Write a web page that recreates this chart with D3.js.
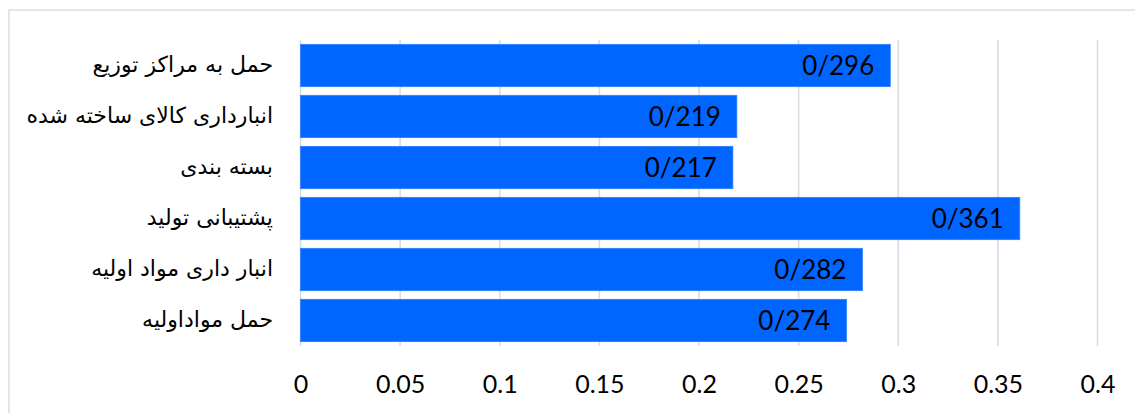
<!DOCTYPE html>
<html><head><meta charset="utf-8">
<script src="https://cdn.jsdelivr.net/npm/d3@7"></script>
<style>body{margin:0;background:#fff;} svg{display:block;}</style>
</head><body>
<svg id="c" width="1135" height="413"></svg>
<script>
const categories = ["حمل به مراکز توزیع","انبارداری کالای ساخته شده","بسته بندی","پشتیبانی تولید","انبار داری مواد اولیه","حمل مواداولیه"];
const values = [0.296, 0.219, 0.217, 0.361, 0.282, 0.274];
const tickValues = [0, 0.05, 0.1, 0.15, 0.2, 0.25, 0.3, 0.35, 0.4];
const tickLabels = ["0","0.05","0.1","0.15","0.2","0.25","0.3","0.35","0.4"];

const svg = d3.select("#c");
svg.append("rect").attr("x",9).attr("y",10).attr("width",1140).attr("height",420)
  .attr("fill","#fff").attr("stroke","#dadde4").attr("stroke-width",1.5);

const x = d3.scaleLinear().domain([0,0.4]).range([300.5,1097.5]);
const y = d3.scaleBand().domain(categories).range([40,346]).paddingInner(0.17).paddingOuter(0.085);

// gridlines
svg.append("g").selectAll("line").data(tickValues).join("line")
  .attr("x1",d=>x(d)).attr("x2",d=>x(d)).attr("y1",40).attr("y2",346)
  .attr("stroke","#d9dce4").attr("stroke-width",1.6);

// bars
svg.append("g").selectAll("rect").data(values).join("rect")
  .attr("x",x(0)).attr("y",(d,i)=>y(categories[i]))
  .attr("width",d=>x(d)-x(0)).attr("height",y.bandwidth())
  .attr("fill","#0066ff").attr("stroke","#2f80ff").attr("stroke-width",0.8);

// value labels
svg.append("g").selectAll("text").data(values).join("text")
  .attr("x",d=>x(d)-16).attr("y",(d,i)=>y(categories[i])+y.bandwidth()/2)
  .attr("dy","0.36em").attr("text-anchor","end")
  .attr("font-family","Lato, 'Open Sans', sans-serif").attr("font-size",26).attr("fill","#000")
  .text(d=>d3.format(".3f")(d).replace(".","/"));

// category labels
svg.append("g").selectAll("text").data(categories).join("text")
  .attr("x",273).attr("y",d=>y(d)+y.bandwidth()/2)
  .attr("dy","0.3em").attr("text-anchor","end")
  .attr("font-family","'DejaVu Sans', sans-serif").attr("font-size",22).attr("fill","#000")
  .text(d=>d);

// x axis
const ax = svg.append("g").attr("transform","translate(0,375)")
  .call(d3.axisBottom(x).tickValues(tickValues).tickFormat((d,i)=>tickLabels[i]).tickSize(0).tickPadding(0));
ax.select(".domain").remove();
ax.selectAll("text").attr("font-family","Lato, 'Open Sans', sans-serif").attr("font-size",25).attr("fill","#000")
  .attr("dy","0.71em");
</script>
</body></html>
